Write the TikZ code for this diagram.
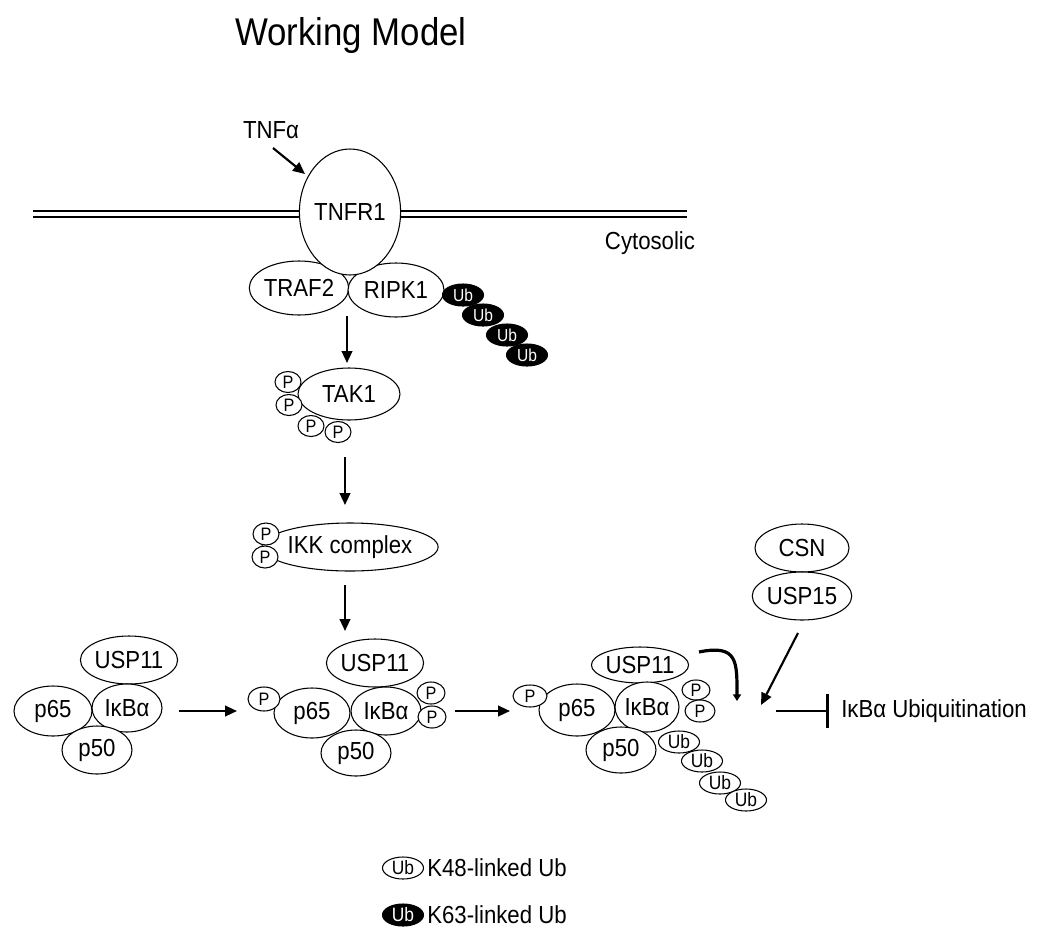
\documentclass[tikz,border=0pt]{standalone}
\usepackage{fontspec}
\setmainfont{Liberation Sans}
\newfontfamily\narfam[FakeStretch=0.9]{Liberation Sans}
\usetikzlibrary{shapes.geometric,arrows.meta}
\newcommand\lblfont{\narfam\fontsize{18.5}{20}\selectfont}
\newcommand\pfont{\narfam\fontsize{13.5}{14}\selectfont}
\newcommand\ubfont{\narfam\fontsize{14.5}{15}\selectfont}
\newcommand\ubkfont{\narfam\fontsize{13}{14}\selectfont}
\newcommand\ttlfont{\narfam\fontsize{29}{32}\selectfont}
\begin{document}
\begin{tikzpicture}[x=0.75pt,y=-0.75pt,
  ov/.style n args={2}{ellipse,draw,fill=white,line width=0.8pt,
     minimum width=#1*0.75pt,minimum height=#2*0.75pt,inner sep=0pt,font=\lblfont},
  pp/.style n args={2}{ov={#1}{#2},font=\pfont},
  ubw/.style={ov={41}{22},font=\ubfont},
  ubk/.style={ov={41}{22},fill=black,text=white,font=\ubkfont},
  lbl/.style={inner sep=0pt,font=\lblfont},
  arr/.style={line width=1.6pt,-{Triangle[length=9pt,width=8pt]}},
  mem/.style={line width=1.1pt}]
\fill[white] (0,0) rectangle (1050,936);
\useasboundingbox (0,0) rectangle (1050,936);

% title
\node[font=\ttlfont,anchor=base,inner sep=0pt] (title) at (351,45) {Working Model};

% membrane
\draw[mem] (33,211) -- (687,211);
\draw[mem] (33,217) -- (687,217);
\node[lbl] (cyto) at (650,243) {Cytosolic};

% receptor complex
\node[ov={94}{54}] (traf2) at (299,288) {TRAF2};
\node[ov={96}{54}] (ripk1) at (396,290) {RIPK1};
\node[ov={84}{126}] (tnfr1) at (350,212) {TNFR1};
\node[lbl] (tnfa) at (271,130) {TNFα};
\coordinate (tnfaS) at (273,148);
\coordinate (tnfaE) at (305,174);
\draw[arr] (tnfaS) -- (tnfaE);

\node[ubk] (k1) at (463,295) {Ub};
\node[ubk] (k2) at (483,315) {Ub};
\node[ubk] (k3) at (507,335) {Ub};
\node[ubk] (k4) at (527,355) {Ub};

% TAK1
\coordinate (v1s) at (347,316);
\coordinate (v1e) at (347,363);
\draw[arr] (v1s) -- (v1e);
\node[ov={102}{52}] (tak1) at (349,394) {TAK1};
\node[pp={26}{21}] (tp1) at (288,382) {P};
\node[pp={26}{21}] (tp2) at (289,405) {P};
\node[pp={26}{21}] (tp3) at (311,426) {P};
\node[pp={26}{21}] (tp4) at (338,432) {P};

% IKK
\coordinate (v2s) at (345,457);
\coordinate (v2e) at (345,505);
\draw[arr] (v2s) -- (v2e);
\node[ov={146}{48}] (ikk) at (350,547) {IKK complex};
\node[pp={26}{22}] (ip1) at (266,534) {P};
\node[pp={26}{22}] (ip2) at (265,557) {P};
\coordinate (v3s) at (345,585);
\coordinate (v3e) at (345,631);
\draw[arr] (v3s) -- (v3e);

% left complex
\node[ov={92}{48}] (usp11a) at (129,660) {USP11};
\node[ov={78}{50}] (p65a) at (53,711) {p65};
\node[ov={70}{48}] (ikba) at (127,708) {IκBα};
\node[ov={70}{48}] (p50a) at (97,750) {p50};

\coordinate (h1s) at (179,711);
\coordinate (h1e) at (237,711);
\draw[arr] (h1s) -- (h1e);

% middle complex
\node[ov={92}{48}] (usp11b) at (375,663) {USP11};
\node[ov={76}{50}] (p65b) at (312,713) {p65};
\node[ov={70}{48}] (ikbb) at (386,711) {IκBα};
\node[ov={70}{46}] (p50b) at (356,753) {p50};
\node[pp={32}{24}] (bp1) at (264,699) {P};
\node[pp={28}{22}] (bp2) at (431,693) {P};
\node[pp={28}{22}] (bp3) at (432,717) {P};

\coordinate (h2s) at (455,711);
\coordinate (h2e) at (510,711);
\draw[arr] (h2s) -- (h2e);

% right complex
\node[ov={94}{36}] (usp11c) at (640,665) {USP11};
\node[ov={76}{52}] (p65c) at (577,710) {p65};
\node[ov={64}{50}] (ikbc) at (647,707) {IκBα};
\node[ov={70}{46}] (p50c) at (621,750) {p50};
\node[pp={34}{22}] (cp1) at (530,696) {P};
\node[pp={28}{20}] (cp2) at (696,690) {P};
\node[pp={30}{22}] (cp3) at (700,711) {P};
\node[ubw] (w1) at (679,742) {Ub};
\node[ubw] (w2) at (702,761) {Ub};
\node[ubw] (w3) at (720,783) {Ub};
\node[ubw] (w4) at (746,800) {Ub};

% hook arrow from USP11
\coordinate (hkS) at (699,652);
\coordinate (hkE) at (737,701);
\draw[line width=2.4pt,-{Triangle[length=5pt,width=6pt]}] (hkS) .. controls (738,644) and (737,662) .. (hkE);

% CSN / USP15
\node[ov={94}{48}] (csn) at (802,548) {CSN};
\node[ov={94}{48}] (usp15) at (802,596) {USP15};
\coordinate (u15s) at (798,633);
\coordinate (u15e) at (761,705);
\draw[arr] (u15s) -- (u15e);

% inhibition
\node[lbl,anchor=west] (ubiq) at (841,711) {IκBα Ubiquitination};
\coordinate (inhS) at (776,711);
\coordinate (inhE) at (829,711);
\draw[line width=2.2pt,-{Bar[width=26pt]}] (inhS) -- (inhE);

% legend
\node[ubw] (lg1) at (403,868) {Ub};
\node[lbl,anchor=west] (lg1t) at (427,868) {K48-linked Ub};
\node[ubk,font=\ubfont] (lg2) at (403,915) {Ub};
\node[lbl,anchor=west] (lg2t) at (427,915) {K63-linked Ub};
\end{tikzpicture}
\end{document}
